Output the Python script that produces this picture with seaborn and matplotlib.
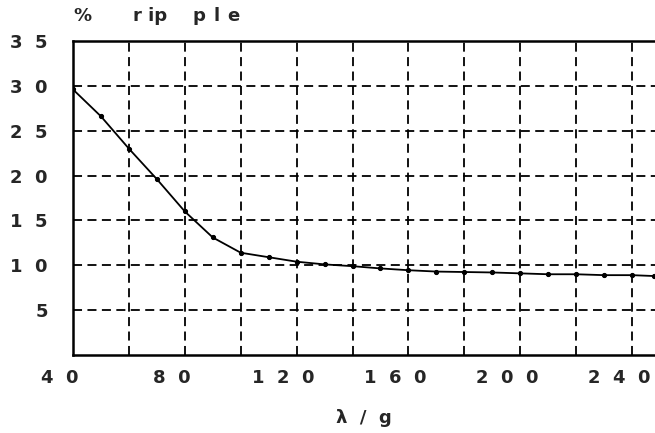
import pandas as pd
import matplotlib.pyplot as plt
import matplotlib.transforms as mtransforms
import seaborn as sns

# values
wavelength = [40, 50, 60, 70, 80, 90, 100, 110, 120, 130, 140, 150, 160, 170, 180, 190, 200, 210, 220, 230, 240, 248]
ripple = [29.6, 26.6, 23.0, 19.6, 16.0, 13.1, 11.4, 10.9, 10.4, 10.1, 9.9, 9.65, 9.45, 9.3, 9.25, 9.2, 9.1, 9.0, 9.0, 8.9, 8.9, 8.8]

x_ticks = [40, 80, 120, 160, 200, 240]
x_tick_labels = ["4  0", "8  0", "1  2  0", "1  6  0", "2  0  0", "2  4  0"]
y_ticks = [5, 10, 15, 20, 25, 30, 35]
y_tick_labels = ["5", "1  0", "1  5", "2  0", "2  5", "3  0", "3  5"]

df = pd.DataFrame({"wavelength": wavelength, "ripple": ripple})

sns.set_style("white")
plt.rcParams["font.family"] = ["DejaVu Sans"]

fig = plt.figure(figsize=(6.55, 4.33), dpi=100)
ax = fig.add_axes([73 / 655, 78 / 433, 582 / 655, 314 / 433])

sns.lineplot(data=df, x="wavelength", y="ripple", ax=ax, color="black",
             linewidth=1.3, marker="o", markersize=3, markeredgecolor="black")

ax.set_xlim(40, 248.2)
ax.set_ylim(0, 35)

# dashed grid every 20 on x, every 5 on y
ax.set_xticks(range(40, 249, 20), minor=True)
ax.set_xticks(x_ticks)
ax.set_yticks(y_ticks)
ax.grid(True, which="both", axis="x", color="black", linestyle=(0, (5, 3)), linewidth=1.3)
ax.grid(True, which="major", axis="y", color="black", linestyle=(0, (5, 3)), linewidth=1.3)
ax.tick_params(which="both", length=0)

ax.set_xticklabels(x_tick_labels, fontsize=13, fontweight="heavy")
ax.set_yticklabels(y_tick_labels, fontsize=13, fontweight="heavy")
ax.tick_params(axis="x", pad=10)
ax.tick_params(axis="y", pad=18)

# labels in the reference sit a little left of their grid lines
shift = mtransforms.ScaledTranslation(-0.13, 0, fig.dpi_scale_trans)
for lab in ax.get_xticklabels():
    lab.set_transform(lab.get_transform() + shift)

for side in ["left", "bottom", "top"]:
    ax.spines[side].set_visible(True)
    ax.spines[side].set_color("black")
    ax.spines[side].set_linewidth(1.8)
ax.spines["right"].set_visible(False)

ax.set_xlabel("λ  /  g", fontsize=13, fontweight="heavy", labelpad=16)
ax.set_ylabel("")

# axis title "% ripple", letters spread out as in the reference
title_parts = [("%", 73), ("r ip", 133), ("p", 192), ("l", 214), ("e", 227)]
for part, px in title_parts:
    fig.text(px / 655, 1 - 16 / 433, part, fontsize=13, fontweight="heavy", va="center")

fig.savefig("out.png", dpi=100)
